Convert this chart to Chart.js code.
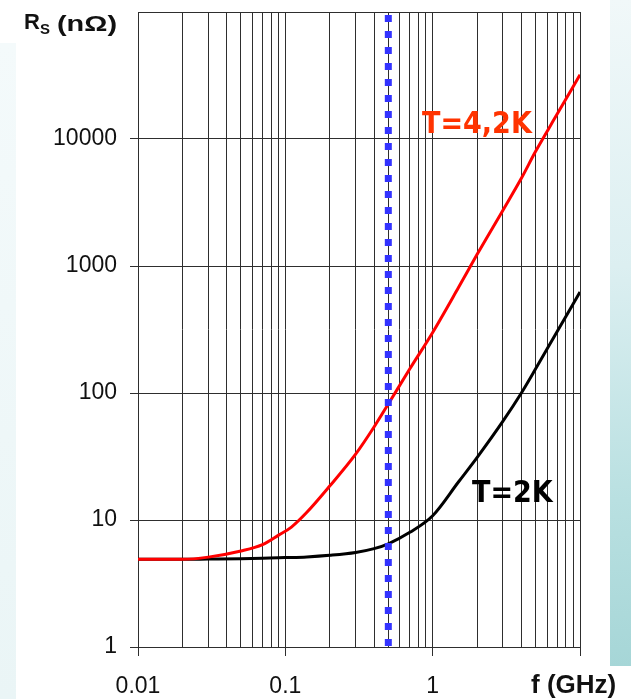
<!DOCTYPE html>
<html>
<head>
<meta charset="utf-8">
<script src="https://cdn.jsdelivr.net/npm/chart.js@4.4.1/dist/chart.umd.min.js"></script>
<style>
  html, body { margin: 0; padding: 0; background: #ffffff; }
  #wrap { position: relative; width: 631px; height: 699px; overflow: hidden; background: #ffffff; }
  #stripLeft { position: absolute; left: 0; top: 43px; width: 16px; height: 656px;
    background: linear-gradient(180deg, #f4fafb 0%, #eaf5f6 100%); }
  #stripRight { position: absolute; left: 610px; top: 0; width: 21px; height: 666px;
    background: linear-gradient(180deg, #f1f8f9 0%, #dcefF1 40%, #b9e0e1 75%, #a6d6d7 100%); }
  canvas { position: absolute; left: 0; top: 0; }
</style>
</head>
<body>
<div id="wrap">
  <div id="stripLeft"></div>
  <div id="stripRight"></div>
  <canvas id="c" width="631" height="699"></canvas>
</div>
<script>
// Surface resistance of niobium versus frequency (log-log)
const freqGHz = [0.01, 0.02, 0.03, 0.05, 0.07, 0.09, 0.11, 0.14, 0.2, 0.3, 0.4, 0.5, 0.7, 1, 1.5, 2, 3, 4, 5, 7, 10];
const rsT42K  = [4.9, 4.9, 5.1, 5.7, 6.4, 7.6, 8.8, 11.5, 18.5, 33, 54, 82, 155, 300, 680, 1230, 2750, 4900, 8000, 15700, 32000];
const rsT2K   = [4.9, 4.9, 4.92, 4.95, 5.0, 5.05, 5.07, 5.12, 5.27, 5.55, 5.95, 6.5, 8.0, 10.8, 20, 31, 60, 100, 155, 305, 624];
const markerFreqGHz = 0.5;

const yTickValues = [1, 10, 100, 1000, 10000, 100000];
const yTickLabels = ['1', '10', '100', '1000', '10000', ''];
const xDecadeValues = [0.01, 0.1, 1, 10];
const xDecadeLabels = ['0.01', '0.1', '1', ''];

const seriesNames = ['T=4,2K', 'T=2K'];

// Vertical grid at every 1..9 step of each decade
const xTickValues = [];
for (let d = 0; d < xDecadeValues.length - 1; d++) {
  for (let m = 1; m <= 9; m++) xTickValues.push(+(xDecadeValues[d] * m).toPrecision(3));
}
xTickValues.push(xDecadeValues[xDecadeValues.length - 1]);

const isDecade = v => xDecadeValues.some(d => Math.abs(d - v) / d < 1e-6);

const toPoints = ys => freqGHz.map((f, i) => ({ x: f, y: ys[i] }));

const GRID = '#2e2e2e';
const TEXT = '#111111';

const labelsPlugin = {
  id: 'labelsPlugin',
  afterDraw(chart) {
    const ctx = chart.ctx;
    const xs = chart.scales.x, ys = chart.scales.y;
    ctx.save();
    ctx.fillStyle = TEXT;
    ctx.textBaseline = 'alphabetic';
    ctx.textAlign = 'left';

    // y-axis title: R_S (nΩ)
    ctx.font = 'bold 22px "Liberation Sans", Arial, sans-serif';
    ctx.fillText('R', 24, 29);
    ctx.font = 'bold 15px "Liberation Sans", Arial, sans-serif';
    ctx.fillText('S', 40, 34);
    ctx.font = 'bold 22px "Liberation Sans", Arial, sans-serif';
    const unit = '(nΩ)';
    const w = ctx.measureText(unit).width;
    ctx.save();
    ctx.translate(57, 31);
    ctx.scale(60 / w, 1);
    ctx.fillText(unit, 0, 0);
    ctx.restore();

    // x-axis title
    ctx.font = 'bold 26px "Liberation Sans", Arial, sans-serif';
    ctx.fillText('f (GHz)', 531, 693);

    // curve labels
    ctx.font = 'bold 30px "DejaVu Sans Condensed", "DejaVu Sans", sans-serif';
    ctx.fillStyle = '#ff3300';
    ctx.fillText(seriesNames[0], xs.getPixelForValue(0.847), ys.getPixelForValue(11100));
    ctx.fillStyle = '#000000';
    ctx.fillText(seriesNames[1], xs.getPixelForValue(1.85), ys.getPixelForValue(13.9));
    ctx.restore();
  }
};

new Chart(document.getElementById('c'), {
  type: 'line',
  data: {
    datasets: [
      {
        label: 'f = 0.5 GHz',
        data: [{ x: markerFreqGHz, y: yTickValues[yTickValues.length - 1] }, { x: markerFreqGHz, y: yTickValues[0] }],
        borderColor: '#3333ff',
        borderWidth: 7,
        borderDash: [7, 9],
        borderDashOffset: -3,
        borderCapStyle: 'butt',
        pointRadius: 0,
        order: 0
      },
      {
        label: seriesNames[0],
        data: toPoints(rsT42K),
        borderColor: '#ff0000',
        borderWidth: 3,
        pointRadius: 0,
        cubicInterpolationMode: 'monotone',
        order: 1
      },
      {
        label: seriesNames[1],
        data: toPoints(rsT2K),
        borderColor: '#000000',
        borderWidth: 3,
        pointRadius: 0,
        cubicInterpolationMode: 'monotone',
        order: 2
      }
    ]
  },
  options: {
    responsive: false,
    animation: false,
    devicePixelRatio: 1,
    layout: { padding: { left: 0, top: 12, right: 51, bottom: 0 } },
    plugins: { legend: { display: false }, tooltip: { enabled: false } },
    scales: {
      x: {
        type: 'logarithmic',
        min: xDecadeValues[0],
        max: xDecadeValues[xDecadeValues.length - 1],
        afterBuildTicks: s => { s.ticks = xTickValues.map(v => ({ value: v })); },
        afterFit: s => { s.height = 52; s.paddingLeft = 0; s.paddingRight = 0; },
        grid: {
          color: GRID,
          lineWidth: 1,
          tickLength: 9,
          tickColor: c => (c.tick && isDecade(c.tick.value)) ? GRID : 'rgba(0,0,0,0)'
        },
        border: { display: true, color: GRID, width: 1 },
        ticks: {
          autoSkip: false,
          maxRotation: 0,
          padding: 17,
          color: TEXT,
          font: { family: '"Liberation Sans", Arial, sans-serif', size: 23 },
          callback: v => {
            const i = xDecadeValues.findIndex(d => Math.abs(d - v) / d < 1e-6);
            return i >= 0 ? xDecadeLabels[i] : '';
          }
        }
      },
      y: {
        type: 'logarithmic',
        min: yTickValues[0],
        max: yTickValues[yTickValues.length - 1],
        afterBuildTicks: s => { s.ticks = yTickValues.map(v => ({ value: v })); },
        afterFit: s => { s.width = 138; s.paddingTop = 0; s.paddingBottom = 0; },
        grid: {
          color: GRID,
          lineWidth: 1,
          tickLength: 8,
          tickColor: c => (c.tick && c.tick.value < yTickValues[yTickValues.length - 1]) ? GRID : 'rgba(0,0,0,0)'
        },
        border: { display: true, color: GRID, width: 1 },
        ticks: {
          autoSkip: false,
          padding: 13,
          color: TEXT,
          font: { family: '"Liberation Sans", Arial, sans-serif', size: 23 },
          callback: v => {
            const i = yTickValues.indexOf(v);
            return i >= 0 ? yTickLabels[i] : '';
          }
        }
      }
    }
  },
  plugins: [labelsPlugin]
});
</script>
</body>
</html>
